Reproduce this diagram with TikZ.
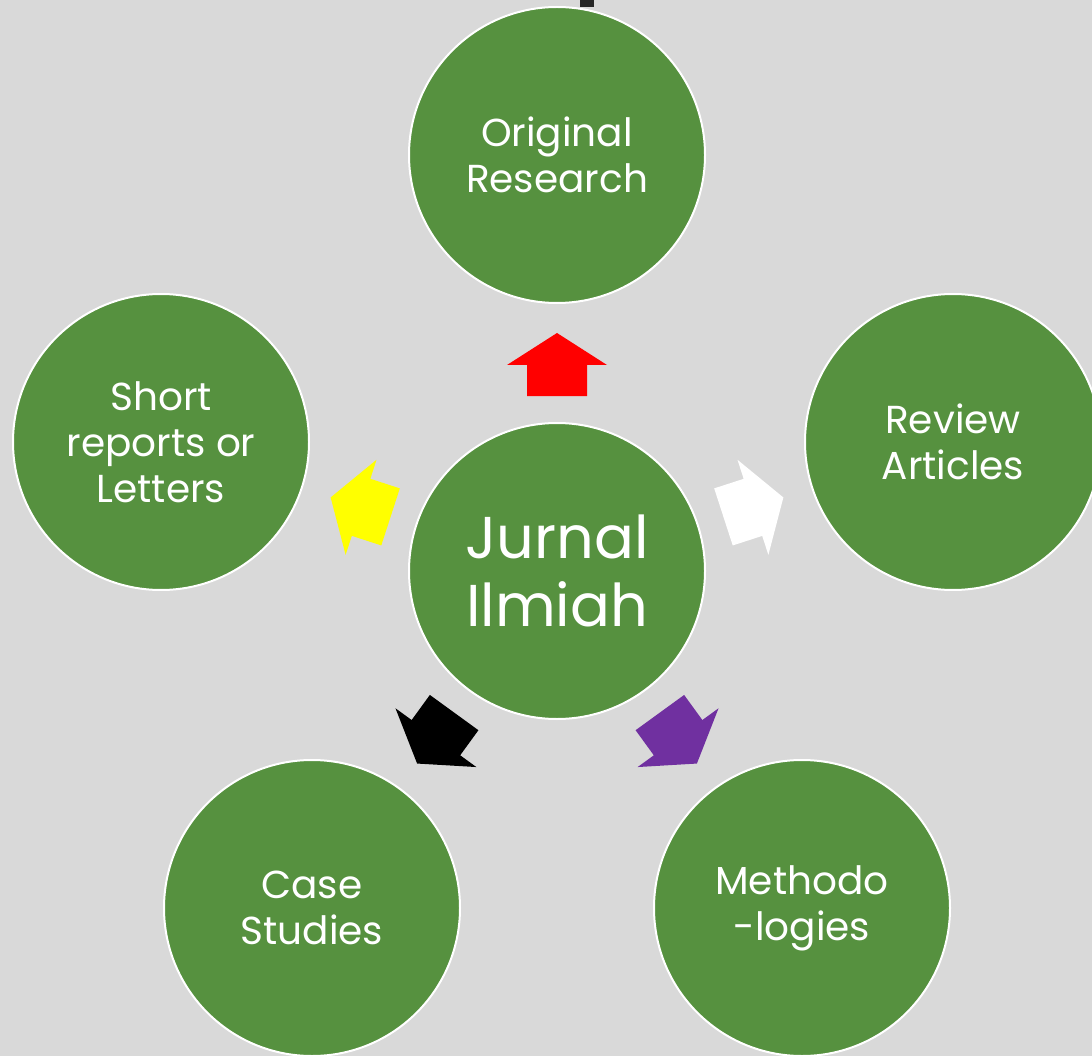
\documentclass[tikz,border=0pt]{standalone}
\usepackage{fontspec}
\setmainfont{Poppins}
\definecolor{bg}{HTML}{D9D9D9}
\definecolor{leaf}{HTML}{56913F}
\definecolor{violet}{HTML}{7030A0}
\definecolor{pureyellow}{HTML}{FFFF00}
\definecolor{purered}{HTML}{FF0000}
\tikzset{
  bubble/.style={circle, fill=leaf, draw=white, line width=2pt, minimum size=296pt, inner sep=0pt,
    text=white, align=center, font=\fontsize{39}{46}\selectfont},
  hub/.style={bubble, font=\fontsize{59}{68}\selectfont}
}
\newcommand{\pentarrow}[2]{%
  \fill[#2, rotate around={#1:(hub)}]
    ([shift={(175,-30)}]hub.center) -- ([shift={(206,-30)}]hub.center) -- ([shift={(206,-50)}]hub.center)
    -- ([shift={(238,0)}]hub.center) -- ([shift={(206,50)}]hub.center) -- ([shift={(206,30)}]hub.center)
    -- ([shift={(175,30)}]hub.center) -- cycle;}
\begin{document}
\begin{tikzpicture}[x=1pt,y=-1pt]
\useasboundingbox (0,0) rectangle (1092,1056);
\clip (0,0) rectangle (1092,1056);
\fill[bg] (0,0) rectangle (1092,1056);
\fill[black!85] (580,0) rectangle (594,7);
\node[hub] (hub) at (557,571) {Jurnal\\Ilmiah};
\node[bubble] (orig) at (557,155) {Original\\Research};
\node[bubble] (rev) at (953,442) {Review\\Articles};
\node[bubble] (short) at (161,442) {Short\\reports or\\Letters};
\node[bubble] (case) at (312,908) {Case\\Studies};
\node[bubble] (meth) at (802,908) {\raisebox{-5pt}{\parbox{200pt}{\centering Methodo\\-logies}}};
\pentarrow{90}{purered}
\pentarrow{18}{white}
\pentarrow{162}{pureyellow}
\pentarrow{-126}{black}
\pentarrow{-54}{violet}
\end{tikzpicture}
\end{document}
